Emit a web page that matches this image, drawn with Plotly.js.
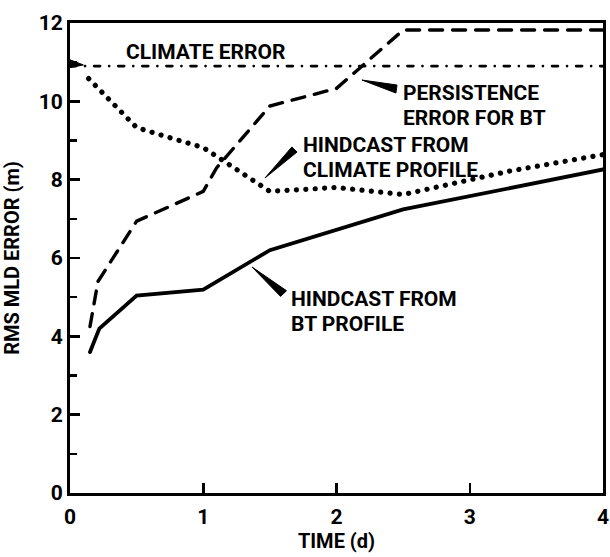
<!DOCTYPE html>
<html>
<head>
<meta charset="utf-8">
<script src="https://cdn.plot.ly/plotly-3.0.1.min.js"></script>
<style>
  html, body { margin: 0; padding: 0; background: #fff; }
  #chart { width: 610px; height: 557px; }
  .js-line { stroke-linecap: round !important; }
</style>
</head>
<body>
<div id="chart"></div>
<script>
// ---- data ----
const timeBT = [0.15, 0.22, 0.5, 1.0, 1.5, 2.0, 2.5, 4.0];
const hindcastBT = [3.6, 4.2, 5.04, 5.19, 6.2, 6.73, 7.24, 8.26];

const timePersist = [0.15, 0.21, 0.5, 1.0, 1.1, 1.5, 2.0, 2.5, 4.0];
const persistenceBT = [4.25, 5.4, 6.94, 7.7, 8.3, 9.88, 10.33, 11.82, 11.82];

const timeClim = [0.14, 0.5, 0.72, 1.0, 1.5, 2.0, 2.5, 2.85, 3.3, 4.0];
const hindcastClim = [10.58, 9.33, 9.1, 8.82, 7.7, 7.8, 7.62, 7.88, 8.22, 8.64];

const timeClimErr = [0, 4];
const climateErr = [10.9, 10.9];

const xTicks = [0, 1, 2, 3, 4];
const yTicks = [0, 2, 4, 6, 8, 10, 12];

const FONT = 'Roboto, "Liberation Sans", Arial, sans-serif';

const traces = [
  { x: timeClimErr, y: climateErr, mode: 'lines', name: 'Climate error',
    line: { color: '#000', width: 2.6, dash: '6px,9px,0.1px,9px' } },
  { x: timePersist, y: persistenceBT, mode: 'lines', name: 'Persistence error for BT',
    line: { color: '#000', width: 3.4, dash: '13px,10px' } },
  { x: timeClim, y: hindcastClim, mode: 'lines', name: 'Hindcast from climate profile',
    line: { color: '#000', width: 5.2, dash: '0.1px,9.3px' } },
  { x: timeBT, y: hindcastBT, mode: 'lines', name: 'Hindcast from BT profile',
    line: { color: '#000', width: 3.8 } }
];

const labelFont = { family: FONT, size: 21, color: '#000', weight: 700 };

const label = (x, y, text) => ({
  x: x, y: y, xref: 'x', yref: 'y', text: text, showarrow: false,
  xanchor: 'left', yanchor: 'middle', align: 'left', font: labelFont, borderpad: 0
});

const annotations = [
  label(0.41, 11.26, 'CLIMATE ERROR'),
  label(2.49, 10.21, 'PERSISTENCE'),
  label(2.49, 9.57, 'ERROR FOR BT'),
  label(1.739, 8.885, 'HINDCAST FROM'),
  label(1.739, 8.247, 'CLIMATE PROFILE'),
  label(1.651, 4.954, 'HINDCAST FROM'),
  label(1.651, 4.303, 'BT PROFILE')
];

const wedge = (a, b, c) => ({
  type: 'path', xref: 'x', yref: 'y',
  path: `M ${a[0]},${a[1]} L ${b[0]},${b[1]} L ${c[0]},${c[1]} Z`,
  fillcolor: '#000', line: { color: '#000', width: 1 }
});

const shapes = [
  wedge([2.191, 10.544], [2.454, 10.416], [2.446, 10.212]),
  wedge([1.463, 8.042], [1.704, 8.706], [1.665, 8.835]),
  wedge([1.366, 5.770], [1.580, 5.020], [1.625, 5.165]),
  wedge([0, 11.06], [0, 10.86], [0.1, 10.93])
];

const axisCommon = {
  showgrid: false, zeroline: false, showline: true, mirror: true,
  linecolor: '#000', linewidth: 3,
  ticks: 'inside', tickcolor: '#000', tickwidth: 2.5, ticklen: 10,
  tickfont: { family: FONT, size: 21, color: '#000', weight: 700 }
};

const layout = {
  width: 610, height: 557,
  margin: { l: 70, r: 7, t: 23, b: 64 },
  paper_bgcolor: '#fff', plot_bgcolor: '#fff',
  showlegend: false,
  font: { family: FONT, color: '#000' },
  xaxis: Object.assign({}, axisCommon, {
    range: [0, 4], tickmode: 'array', tickvals: xTicks, ticktext: xTicks.map(String),
    ticklabelstandoff: 3,
    title: { text: 'TIME (d)', font: { family: FONT, size: 20, color: '#000', weight: 700 }, standoff: 6 }
  }),
  yaxis: Object.assign({}, axisCommon, {
    range: [0, 12], tickmode: 'array', tickvals: yTicks, ticktext: yTicks.map(String),
    minor: { tickvals: [1, 3, 5, 7, 9, 11], ticks: 'inside', ticklen: 7, tickwidth: 2.5, tickcolor: '#000' },
    title: { text: 'RMS MLD ERROR (m)', font: { family: FONT, size: 20, color: '#000', weight: 700 }, standoff: 15 }
  }),
  annotations: annotations,
  shapes: shapes
};

Plotly.newPlot('chart', traces, layout, { staticPlot: true, displayModeBar: false });
</script>
</body>
</html>
